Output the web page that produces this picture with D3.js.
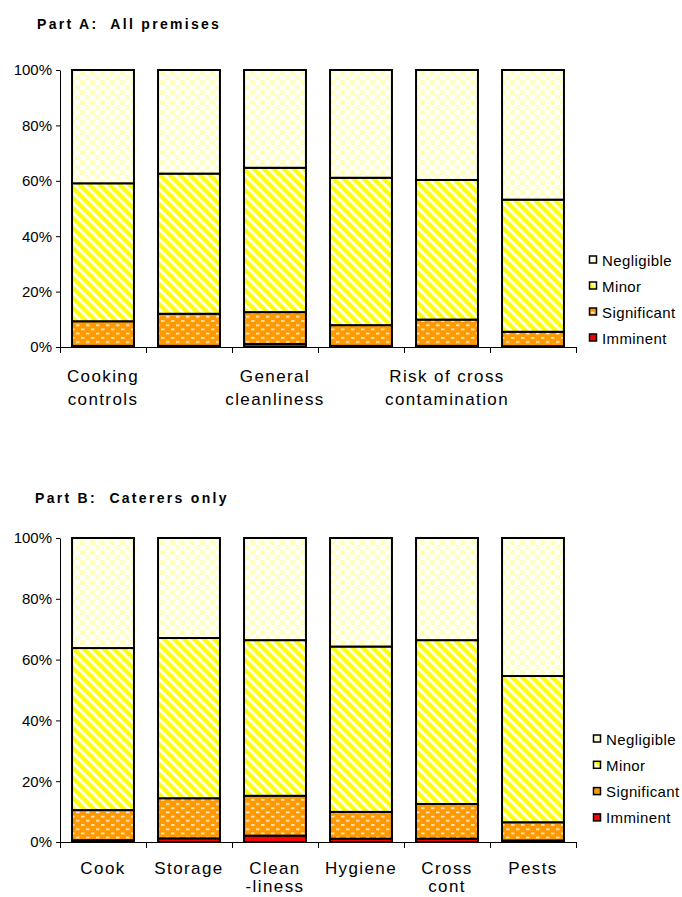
<!DOCTYPE html>
<html><head><meta charset="utf-8">
<script src="https://cdn.jsdelivr.net/npm/d3@7"></script>
<style>
html,body{margin:0;padding:0;background:#fff;}
svg{display:block;font-family:"Liberation Sans",Arial,sans-serif;}
</style></head><body>
<svg id="chart" width="682" height="897"></svg>
<script>
// Risk levels, stacked bottom to top
const severities = ["Imminent", "Significant", "Minor", "Negligible"];
const legendOrder = ["Negligible", "Minor", "Significant", "Imminent"];

// Part A: all premises (percent of premises)
const partACategories = ["Cooking\ncontrols", "Storage", "General\ncleanliness", "Hygiene", "Risk of cross\ncontamination", "Pests"];
const partAImminent    = [0.4, 0.4, 1.1, 0.4, 0.4, 0.3];
const partASignificant = [8.9, 11.6, 11.5, 7.5, 9.5, 5.2];
const partAMinor       = [49.8, 50.6, 52.1, 53.2, 50.4, 47.7];
const partANegligible  = [40.9, 37.4, 35.3, 38.9, 39.7, 46.8];

// Part B: caterers only (percent of premises)
const partBCategories = ["Cook", "Storage", "Clean\n-liness", "Hygiene", "Cross\ncont", "Pests"];
const partBImminent    = [0.6, 1.2, 2.1, 1.1, 1.1, 0.5];
const partBSignificant = [9.9, 13.2, 13.1, 8.8, 11.4, 6.0];
const partBMinor       = [53.3, 52.7, 51.2, 54.4, 53.9, 48.1];
const partBNegligible  = [36.2, 32.9, 33.6, 35.7, 33.6, 45.4];

const yTicks = [0, 20, 40, 60, 80, 100];

const svg = d3.select("#chart");
const defs = svg.append("defs");

// Fill patterns for each risk level
const pNeg = defs.append("pattern").attr("id", "fill-Negligible")
  .attr("patternUnits", "userSpaceOnUse").attr("width", 10).attr("height", 10);
pNeg.append("rect").attr("width", 10).attr("height", 10).attr("fill", "#ffffff");
pNeg.append("rect").attr("width", 5).attr("height", 5).attr("fill", "#ffffc4");
pNeg.append("rect").attr("x", 5).attr("y", 5).attr("width", 5).attr("height", 5).attr("fill", "#ffffc4");

const pMin = defs.append("pattern").attr("id", "fill-Minor")
  .attr("patternUnits", "userSpaceOnUse").attr("width", 10).attr("height", 10);
pMin.append("rect").attr("width", 10).attr("height", 10).attr("fill", "#ffff00");
[[-5, 5, 5, 15], [0, 0, 10, 10], [5, -5, 15, 5]].forEach(([x1, y1, x2, y2]) =>
  pMin.append("line").attr("x1", x1).attr("y1", y1).attr("x2", x2).attr("y2", y2)
    .attr("stroke", "#ffffff").attr("stroke-width", 2.8));

const pSig = defs.append("pattern").attr("id", "fill-Significant")
  .attr("patternUnits", "userSpaceOnUse").attr("width", 10).attr("height", 8.4);
pSig.append("rect").attr("width", 10).attr("height", 8.4).attr("fill", "#ff9900");
pSig.append("rect").attr("x", 1).attr("y", 1).attr("width", 3.5).attr("height", 1.6).attr("fill", "#fff0dd");
pSig.append("rect").attr("x", 6).attr("y", 5.2).attr("width", 3.5).attr("height", 1.6).attr("fill", "#fff0dd");

const fills = {
  Negligible: "url(#fill-Negligible)",
  Minor: "url(#fill-Minor)",
  Significant: "url(#fill-Significant)",
  Imminent: "#ff0000"
};

function drawPanel(cfg) {
  const g = svg.append("g");
  const rows = cfg.categories.map((c, i) => ({
    category: c,
    Imminent: cfg.imminent[i],
    Significant: cfg.significant[i],
    Minor: cfg.minor[i],
    Negligible: cfg.negligible[i]
  }));

  const x = d3.scaleBand().domain(cfg.categories)
    .range([cfg.left, cfg.right]).paddingInner(0.28).paddingOuter(0.14);
  const y = d3.scaleLinear().domain([0, 100]).range([cfg.bottom, cfg.top]);

  // Title
  g.append("text")
    .attr("x", cfg.titleX).attr("y", cfg.titleY)
    .attr("font-size", 14).attr("font-weight", "bold")
    .attr("letter-spacing", "2.3px").style("white-space", "pre")
    .attr("fill", "#000").text(cfg.title);

  // Stacked bars
  const stacked = d3.stack().keys(severities)(rows);
  g.append("g").selectAll("g").data(stacked).join("g")
    .attr("fill", d => fills[d.key])
    .selectAll("rect").data(d => d).join("rect")
    .attr("x", d => x(d.data.category))
    .attr("width", x.bandwidth())
    .attr("y", d => y(d[1]))
    .attr("height", d => y(d[0]) - y(d[1]))
    .attr("stroke", "#000").attr("stroke-width", 2);

  // Y axis
  const yAxis = g.append("g").attr("transform", `translate(${cfg.left},0)`)
    .call(d3.axisLeft(y).tickValues(yTicks).tickFormat(d => d + "%")
      .tickSize(4).tickSizeOuter(0).tickPadding(4));
  yAxis.select(".domain").attr("stroke", "#000");
  yAxis.selectAll(".tick line").attr("stroke", "#000");
  yAxis.selectAll(".tick text").attr("font-size", 15)
    .attr("font-family", "Liberation Sans, Arial, sans-serif").attr("fill", "#000");

  // X axis with ticks on category boundaries
  const xAxis = g.append("g");
  xAxis.append("line").attr("x1", cfg.left).attr("x2", cfg.right)
    .attr("y1", cfg.bottom + 0.5).attr("y2", cfg.bottom + 0.5).attr("stroke", "#000");
  const bounds = d3.range(cfg.categories.length + 1).map(i => cfg.left + i * x.step());
  xAxis.selectAll("line.tick").data(bounds).join("line").attr("class", "tick")
    .attr("x1", d => Math.round(d) + 0.5).attr("x2", d => Math.round(d) + 0.5)
    .attr("y1", cfg.bottom).attr("y2", cfg.bottom + 6).attr("stroke", "#000");

  // Category labels
  const shown = cfg.categories.filter((c, i) => i % cfg.labelStep === 0);
  const lbl = xAxis.selectAll("text.cat").data(shown).join("text").attr("class", "cat")
    .attr("text-anchor", "middle").attr("font-size", 17).attr("letter-spacing", "1.4px")
    .attr("fill", "#000")
    .attr("transform", d => `translate(${x(d) + x.bandwidth() / 2},${cfg.labelY})`);
  lbl.selectAll("tspan").data(d => d.split("\n")).join("tspan")
    .attr("x", 0).attr("y", (d, i) => i * cfg.lineGap).text(d => d);

  // Legend
  const leg = g.append("g");
  legendOrder.forEach((k, i) => {
    const cy = cfg.legendY + i * cfg.legendGap;
    leg.append("rect").attr("x", cfg.legendX + 0.5).attr("y", cy - 4)
      .attr("width", 7).attr("height", 7)
      .attr("fill", fills[k]).attr("stroke", "#000").attr("stroke-width", 1.5);
    leg.append("text").attr("x", cfg.legendX + cfg.legendTextDx).attr("y", cy + 5.5)
      .attr("font-size", 15).attr("letter-spacing", "0.4px").attr("fill", "#000").text(k);
  });
}

drawPanel({
  title: "Part A:  All premises", titleX: 37, titleY: 29,
  categories: partACategories, imminent: partAImminent, significant: partASignificant,
  minor: partAMinor, negligible: partANegligible,
  left: 60, right: 576, top: 70, bottom: 347, labelY: 381.5, lineGap: 23.3, labelStep: 2,
  legendX: 589, legendY: 260, legendGap: 26, legendTextDx: 13
});

drawPanel({
  title: "Part B:  Caterers only", titleX: 35, titleY: 502.5,
  categories: partBCategories, imminent: partBImminent, significant: partBSignificant,
  minor: partBMinor, negligible: partBNegligible,
  left: 60, right: 576, top: 538, bottom: 842, labelY: 874, lineGap: 18, labelStep: 1,
  legendX: 593, legendY: 739, legendGap: 26.3, legendTextDx: 13
});
</script>
</body></html>
